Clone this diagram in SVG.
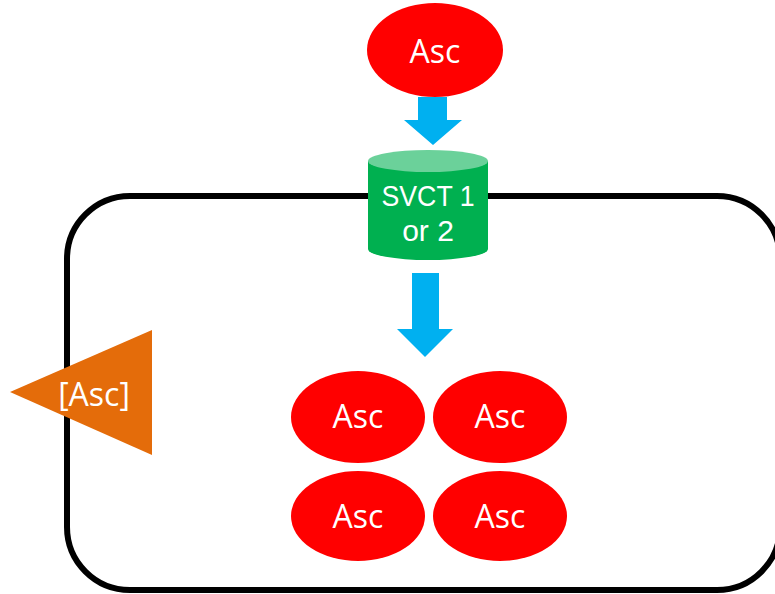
<svg xmlns="http://www.w3.org/2000/svg" width="775" height="594" viewBox="0 0 775 594">
<style>
.t{font-family:"Open Sans","Liberation Sans",sans-serif;font-size:32px;fill:#ffffff;text-anchor:middle}
.c{font-family:"Liberation Sans",Arial,sans-serif;font-size:30px;fill:#ffffff;text-anchor:middle}
.asc{fill:#ff0000}
.arrow{fill:#00b0f0}
</style>
<rect width="775" height="594" fill="#ffffff"/>
<g id="cell">
<rect x="67" y="196" width="713" height="394" rx="63" ry="63" fill="none" stroke="#000000" stroke-width="6"/>
</g>
<g id="connectors">
<polygon class="arrow" points="418,97 447,97 447,120 462,120 433,145 404,120 418,120"/>
<polygon class="arrow" points="412,273 439,273 439,329 453,329 425,357 397,329 412,329"/>
</g>
<g id="asc-outside">
<ellipse class="asc" cx="435" cy="50" rx="68" ry="47"/>
<text class="t" x="435" y="63">Asc</text>
</g>
<g id="svct">
<path d="M368,161 L368,249 A60,11 0 0 0 488,249 L488,161 Z" fill="#00b050"/>
<ellipse cx="428" cy="161" rx="60" ry="11" fill="#6bd19a"/>
<text class="c" x="428" y="206" textLength="93" lengthAdjust="spacingAndGlyphs">SVCT 1</text>
<text class="c" x="428" y="241">or 2</text>
</g>
<g id="asc-conc">
<polygon points="10,392 152,330 152,455" fill="#e46c0a"/>
<text class="t" x="94" y="406">[Asc]</text>
</g>
<g id="asc1">
<ellipse class="asc" cx="358" cy="417" rx="67" ry="46"/>
<text class="t" x="358" y="428">Asc</text>
</g>
<g id="asc2">
<ellipse class="asc" cx="500" cy="417" rx="67" ry="46"/>
<text class="t" x="500" y="428">Asc</text>
</g>
<g id="asc3">
<ellipse class="asc" cx="358" cy="516" rx="67" ry="45"/>
<text class="t" x="358" y="528">Asc</text>
</g>
<g id="asc4">
<ellipse class="asc" cx="500" cy="516" rx="67" ry="45"/>
<text class="t" x="500" y="528">Asc</text>
</g>
</svg>
